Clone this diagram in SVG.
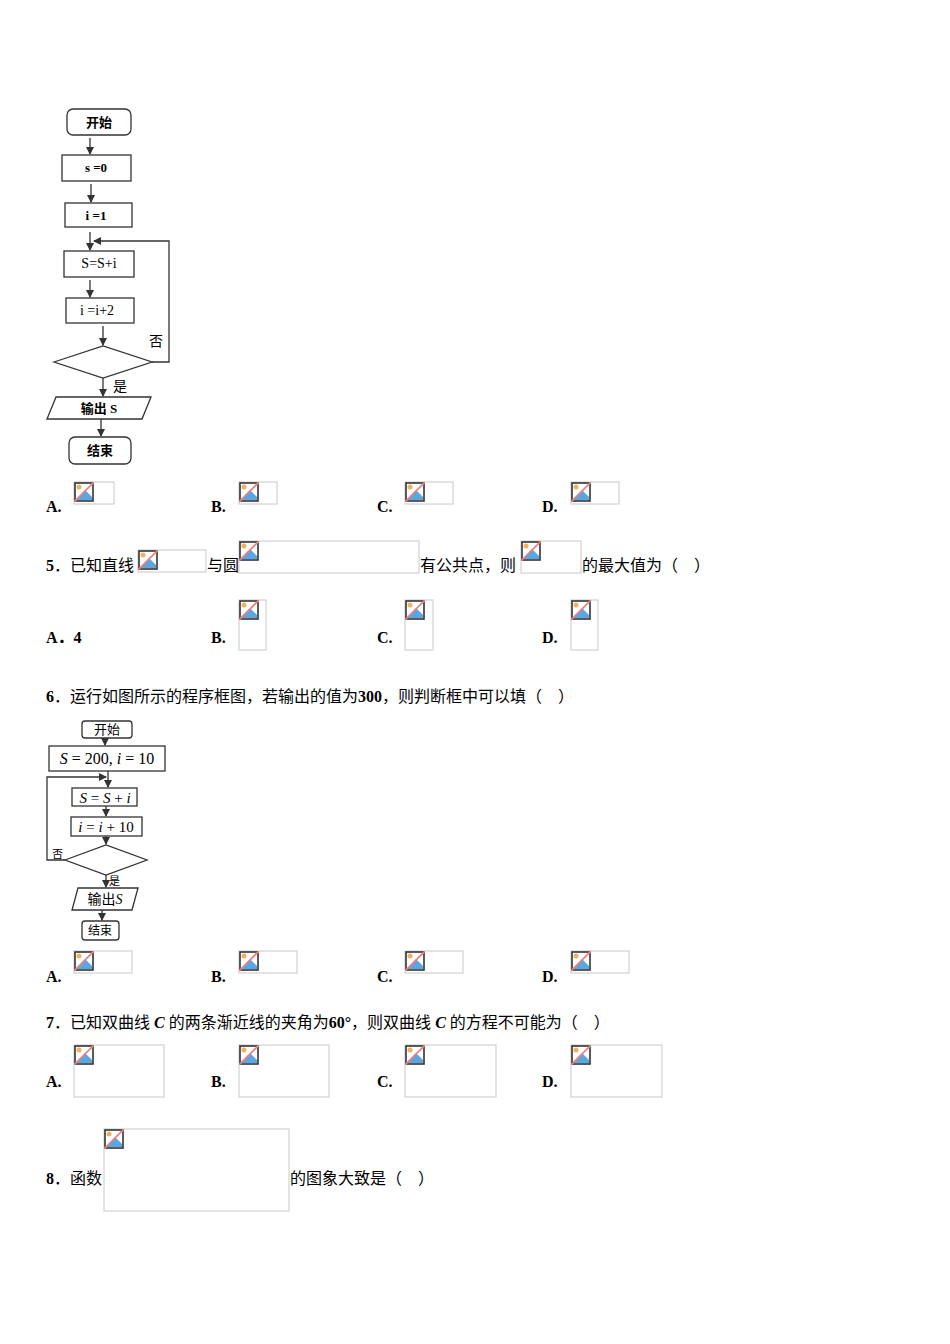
<svg xmlns="http://www.w3.org/2000/svg" width="950" height="1344" viewBox="0 0 950 1344">
<style>
text{font-family:"Liberation Serif","Noto Sans CJK SC",serif;fill:#000;white-space:pre}
.t{font-size:16px}
.b{font-weight:bold}
.ph{fill:#fff;stroke:#c8c8c8;stroke-width:1}
.fc{fill:#fff;stroke:#333;stroke-width:1.3}
.ln{fill:none;stroke:#333;stroke-width:1.3}
.f1{font-size:13px;font-weight:bold}
.f2{font-size:14px}
</style>
<defs>
<marker id="ar" markerWidth="8" markerHeight="8" refX="7" refY="4" orient="auto" markerUnits="userSpaceOnUse"><path d="M0,0L8,4L0,8z" fill="#333"/></marker>
<symbol id="ic" viewBox="0 0 20 20">
<rect x="1" y="1" width="18" height="18" fill="#fff" stroke="#333" stroke-width="1.6"/>
<path d="M2,18L11,8L18,15V18z" fill="#5aa6e0"/>
<circle cx="5" cy="5" r="2.5" fill="#f0b060"/>
<line x1="0" y1="20" x2="20" y2="0" stroke="#e88080" stroke-width="1.6"/>
</symbol>
</defs>

<g id="flowchart1">
<g id="n1-start"><rect class="fc" x="67" y="109" width="64" height="26" rx="6"/><text class="f1" x="99" y="127" text-anchor="middle">开始</text></g>
<g id="n1-s0"><rect class="fc" x="62" y="155" width="69" height="26"/><text class="f1" x="96" y="172" text-anchor="middle">s =0</text></g>
<g id="n1-i1"><rect class="fc" x="65" y="203" width="67" height="24"/><text class="f1" x="96" y="220" text-anchor="middle">i =1</text></g>
<g id="n1-ss"><rect class="fc" x="64" y="251" width="70" height="26"/><text class="f2" x="99" y="268" text-anchor="middle">S=S+i</text></g>
<g id="n1-ii"><rect class="fc" x="66" y="298" width="68" height="25"/><text class="f2" x="97" y="315" text-anchor="middle">i =i+2</text></g>
<g id="n1-dec"><polygon class="fc" points="54,362 103,346 152,362 103,378"/></g>
<g id="n1-out"><polygon class="fc" points="56,397 151,397 142,419 47,419"/><text class="f1" x="99" y="413" text-anchor="middle">输出 S</text></g>
<g id="n1-end"><rect class="fc" x="69" y="437" width="62" height="27" rx="6"/><text class="f1" x="100" y="455" text-anchor="middle">结束</text></g>
<g id="c1">
<line class="ln" x1="90" y1="138" x2="90" y2="154" marker-end="url(#ar)"/>
<line class="ln" x1="91" y1="184" x2="91" y2="202" marker-end="url(#ar)"/>
<line class="ln" x1="90" y1="232" x2="90" y2="250" marker-end="url(#ar)"/>
<line class="ln" x1="90" y1="280" x2="90" y2="297" marker-end="url(#ar)"/>
<line class="ln" x1="103" y1="326" x2="103" y2="345" marker-end="url(#ar)"/>
<line class="ln" x1="103" y1="378" x2="103" y2="396" marker-end="url(#ar)"/>
<line class="ln" x1="101" y1="419" x2="101" y2="436" marker-end="url(#ar)"/>
<polyline class="ln" points="152,362 169,362 169,241 94,241" marker-end="url(#ar)"/>
<text class="f2" x="149" y="346">否</text>
<text class="f2" x="113" y="391">是</text>
</g>
</g>

<g id="flowchart2">
<g id="n2-start"><rect class="fc" x="82" y="721" width="50" height="17" rx="3"/><text x="107" y="734" text-anchor="middle" style="font-size:13px">开始</text></g>
<g id="n2-init"><rect class="fc" x="49" y="746" width="116" height="25"/><text x="107" y="764" text-anchor="middle" style="font-size:16px"><tspan font-style="italic">S</tspan> = 200, <tspan font-style="italic">i</tspan> = 10</text></g>
<g id="n2-ss"><rect class="fc" x="72" y="788" width="65" height="18"/><text x="105" y="803" text-anchor="middle" style="font-size:15px"><tspan font-style="italic">S</tspan> = <tspan font-style="italic">S</tspan> + <tspan font-style="italic">i</tspan></text></g>
<g id="n2-ii"><rect class="fc" x="71" y="817" width="71" height="19"/><text x="106" y="832" text-anchor="middle" style="font-size:15px"><tspan font-style="italic">i</tspan> = <tspan font-style="italic">i</tspan> + 10</text></g>
<g id="n2-dec"><polygon class="fc" points="65,860 106,845 147,860 106,875"/></g>
<g id="n2-out"><polygon class="fc" points="78,888 138,888 132,910 72,910"/><text x="105" y="904" text-anchor="middle" style="font-size:14px">输出<tspan font-style="italic">S</tspan></text></g>
<g id="n2-end"><rect class="fc" x="82" y="921" width="37" height="19" rx="3"/><text x="100" y="935" text-anchor="middle" style="font-size:12px">结束</text></g>
<g id="c2">
<line class="ln" x1="105" y1="738" x2="105" y2="745" marker-end="url(#ar)"/>
<line class="ln" x1="108" y1="771" x2="108" y2="787" marker-end="url(#ar)"/>
<line class="ln" x1="106" y1="806" x2="106" y2="816" marker-end="url(#ar)"/>
<line class="ln" x1="106" y1="836" x2="106" y2="844" marker-end="url(#ar)"/>
<line class="ln" x1="106" y1="875" x2="106" y2="887" marker-end="url(#ar)"/>
<line class="ln" x1="102" y1="910" x2="102" y2="920" marker-end="url(#ar)"/>
<polyline class="ln" points="65,860 47,860 47,777 106,777" marker-end="url(#ar)"/>
<text x="52" y="858" style="font-size:11px">否</text>
<text x="109" y="885" style="font-size:11px">是</text>
</g>
</g>

<g id="placeholders">
<rect class="ph" x="74" y="482" width="40" height="22"/><use href="#ic" x="74" y="482" width="20" height="20"/>
<rect class="ph" x="239" y="482" width="38" height="22"/><use href="#ic" x="239" y="482" width="20" height="20"/>
<rect class="ph" x="405" y="482" width="48" height="22"/><use href="#ic" x="405" y="482" width="20" height="20"/>
<rect class="ph" x="571" y="482" width="48" height="22"/><use href="#ic" x="571" y="482" width="20" height="20"/>
<rect class="ph" x="138" y="550" width="68" height="22"/><use href="#ic" x="138" y="550" width="20" height="20"/>
<rect class="ph" x="239" y="541" width="180" height="32"/><use href="#ic" x="239" y="541" width="20" height="20"/>
<rect class="ph" x="521" y="541" width="60" height="32"/><use href="#ic" x="521" y="541" width="20" height="20"/>
<rect class="ph" x="239" y="600" width="27" height="50"/><use href="#ic" x="239" y="600" width="20" height="20"/>
<rect class="ph" x="405" y="600" width="28" height="50"/><use href="#ic" x="405" y="600" width="20" height="20"/>
<rect class="ph" x="571" y="600" width="27" height="50"/><use href="#ic" x="571" y="600" width="20" height="20"/>
<rect class="ph" x="74" y="951" width="58" height="22"/><use href="#ic" x="74" y="951" width="20" height="20"/>
<rect class="ph" x="239" y="951" width="58" height="22"/><use href="#ic" x="239" y="951" width="20" height="20"/>
<rect class="ph" x="405" y="951" width="58" height="22"/><use href="#ic" x="405" y="951" width="20" height="20"/>
<rect class="ph" x="571" y="951" width="58" height="22"/><use href="#ic" x="571" y="951" width="20" height="20"/>
<rect class="ph" x="74" y="1045" width="90" height="52"/><use href="#ic" x="74" y="1045" width="20" height="20"/>
<rect class="ph" x="239" y="1045" width="90" height="52"/><use href="#ic" x="239" y="1045" width="20" height="20"/>
<rect class="ph" x="405" y="1045" width="91" height="52"/><use href="#ic" x="405" y="1045" width="20" height="20"/>
<rect class="ph" x="571" y="1045" width="91" height="52"/><use href="#ic" x="571" y="1045" width="20" height="20"/>
<rect class="ph" x="104" y="1129" width="185" height="82"/><use href="#ic" x="104" y="1129" width="20" height="20"/>
</g>

<g id="texts">
<text class="t b" x="46" y="512">A.</text><text class="t b" x="211" y="512">B.</text><text class="t b" x="377" y="512">C.</text><text class="t b" x="542" y="512">D.</text>
<text class="t" x="46" y="571"><tspan class="b">5</tspan>．已知直线</text>
<text class="t" x="207" y="571">与圆</text>
<text class="t" x="420" y="571">有公共点，则</text>
<text class="t" x="582" y="571">的最大值为（    ）</text>
<text class="t b" x="46" y="643">A．4</text><text class="t b" x="211" y="643">B.</text><text class="t b" x="377" y="643">C.</text><text class="t b" x="542" y="643">D.</text>
<text class="t" x="46" y="702"><tspan class="b">6</tspan>．运行如图所示的程序框图，若输出的值为<tspan class="b">300</tspan>，则判断框中可以填（    ）</text>
<text class="t b" x="46" y="982">A.</text><text class="t b" x="211" y="982">B.</text><text class="t b" x="377" y="982">C.</text><text class="t b" x="542" y="982">D.</text>
<text class="t" x="46" y="1028"><tspan class="b">7</tspan>．已知双曲线<tspan class="b" font-style="italic"> C </tspan>的两条渐近线的夹角为<tspan class="b">60°</tspan>，则双曲线<tspan class="b" font-style="italic"> C </tspan>的方程不可能为（    ）</text>
<text class="t b" x="46" y="1087">A.</text><text class="t b" x="211" y="1087">B.</text><text class="t b" x="377" y="1087">C.</text><text class="t b" x="542" y="1087">D.</text>
<text class="t" x="46" y="1184"><tspan class="b">8</tspan>．函数</text>
<text class="t" x="290" y="1184">的图象大致是（    ）</text>
</g>
</svg>
